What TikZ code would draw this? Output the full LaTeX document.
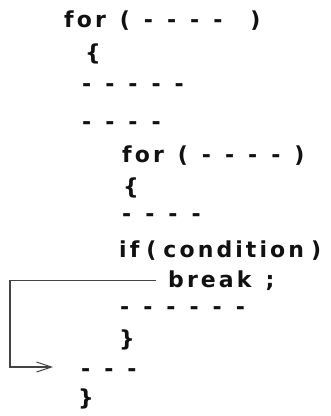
\documentclass[tikz,border=0pt]{standalone}
\usepackage{fontspec}
\newfontfamily\codefont{DejaVu Sans}[LetterSpace=14]
\usetikzlibrary{arrows.meta}
\definecolor{ink}{HTML}{111111}
\definecolor{wire}{HTML}{444444}
\tikzset{
  code/.style={anchor=base west,inner sep=0pt,text=ink,
    font=\codefont\bfseries\fontsize{22}{26}\selectfont,
    execute at begin node={\spaceskip=14pt\relax}},
  tight/.style={code,execute at begin node={\spaceskip=7pt\relax}},
  flow/.style={draw=wire,line width=1.2pt,-{Straight Barb[length=15pt,width=10pt,line width=1pt]}}
}
\begin{document}
\begin{tikzpicture}[x=1pt,y=-1pt]
\useasboundingbox[fill=white] (0,0) rectangle (331,416);
\node[code] (l1) at (64,27) {for ( - - - - \ )};
\node[code] (l2) at (85,60) {\{};
\node[code] (l3) at (82,91) {- - - - -};
\node[code] (l4) at (82,129) {- - - -};
\node[code] (l5) at (122,162) {for ( - - - - )};
\node[code] (l6) at (123,194) {\{};
\node[code] (l7) at (122,221) {- - - -};
\node[tight] (l8) at (119,257) {if ( condition )};
\node[code] (brk) at (168,287) {break ;};
\node[code] (l10) at (120,314) {- - - - - -};
\node[code] (l11) at (119,346) {\}};
\node[code] (l12) at (81,376) {- - -};
\node[code] (l13) at (78,405) {\}};
\coordinate (rail) at (10,0);
\coordinate (tip) at (53,367);
\draw[flow] ([xshift=-12pt]brk.west) -- (brk.west -| rail) |- (tip);
\end{tikzpicture}
\end{document}
